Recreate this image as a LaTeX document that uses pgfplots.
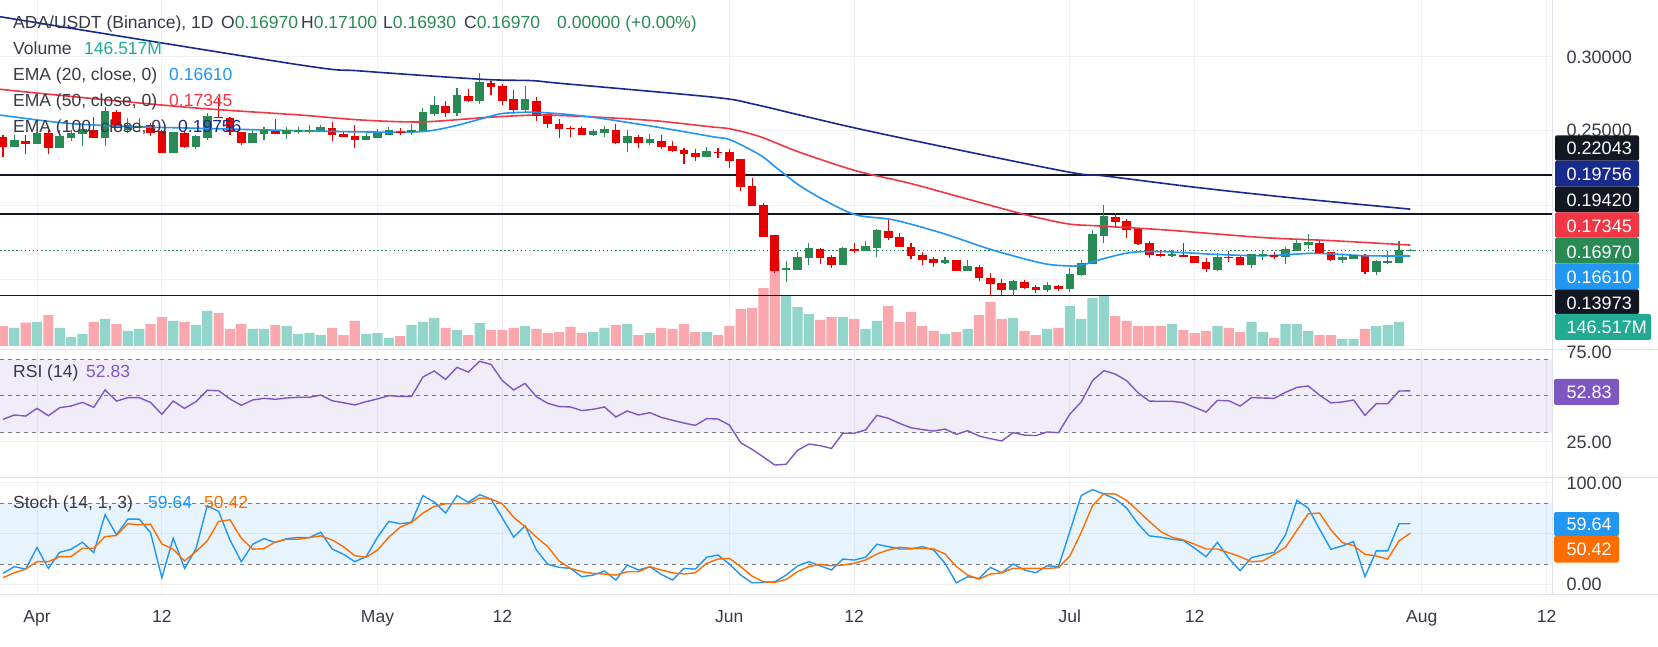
\documentclass[border=0pt]{standalone}
\usepackage{pgfplots}
\pgfplotsset{compat=1.18}
\usepackage{pgfplotstable}
\usepackage{fontspec}
\setmainfont{Liberation Sans}

\definecolor{upc}{RGB}{42,138,86}
\definecolor{dnc}{RGB}{230,0,0}
\definecolor{volup}{RGB}{146,213,202}
\definecolor{voldn}{RGB}{250,168,174}
\definecolor{volc}{RGB}{34,171,148}
\definecolor{ema20}{RGB}{33,150,243}
\definecolor{ema50}{RGB}{242,54,69}
\definecolor{ema100}{RGB}{24,42,140}
\definecolor{lvl}{RGB}{19,23,34}
\definecolor{gridc}{RGB}{238,240,245}
\definecolor{sepc}{RGB}{224,227,235}
\definecolor{rsic}{RGB}{126,87,194}
\definecolor{stk}{RGB}{33,150,243}
\definecolor{std}{RGB}{255,109,0}
\definecolor{dashc}{RGB}{120,123,134}
\definecolor{txt}{RGB}{55,58,70}

\newcommand\tv{\fontsize{17.5}{20}\selectfont}
\newcommand\sv{\fontsize{18}{21}\selectfont}

% daily candles: day index (0 = 1 Apr), open, high, low, close, volume (M)
\pgfplotstableread{
d o h l c v
-2 0.2395 0.2473 0.2390 0.2433 110
0 0.2413 0.2496 0.2410 0.2484 147
2 0.2388 0.2507 0.2385 0.2460 110
3 0.2455 0.2507 0.2433 0.2480 55
4 0.2478 0.2529 0.2402 0.2507 73
6 0.2455 0.2663 0.2402 0.2628 165
8 0.2505 0.2590 0.2484 0.2534 92
9 0.2525 0.2585 0.2490 0.2530 104
12 0.2355 0.2490 0.2352 0.2487 153
14 0.2395 0.2473 0.2379 0.2460 128
15 0.2455 0.2619 0.2440 0.2594 214
19 0.2422 0.2513 0.2420 0.2480 104
20 0.2482 0.2529 0.2440 0.2502 104
22 0.2478 0.2525 0.2449 0.2500 122
23 0.2493 0.2529 0.2482 0.2500 73
24 0.2496 0.2540 0.2484 0.2502 79
25 0.2496 0.2540 0.2494 0.2522 67
29 0.2442 0.2484 0.2440 0.2460 73
30 0.2455 0.2511 0.2453 0.2480 79
31 0.2475 0.2527 0.2473 0.2500 49
33 0.2493 0.2547 0.2473 0.2500 128
34 0.2496 0.2654 0.2494 0.2621 147
35 0.2616 0.2735 0.2603 0.2668 171
37 0.2623 0.2789 0.2603 0.2735 98
39 0.2704 0.2889 0.2683 0.2822 140
43 0.2643 0.2802 0.2623 0.2708 122
49 0.2475 0.2513 0.2469 0.2493 85
50 0.2489 0.2534 0.2462 0.2507 110
52 0.2422 0.2507 0.2361 0.2460 134
54 0.2422 0.2480 0.2408 0.2440 79
59 0.2328 0.2393 0.2326 0.2359 85
66 0.1570 0.1628 0.1489 0.1574 311
67 0.1570 0.1686 0.1568 0.1652 238
68 0.1650 0.1748 0.1601 0.1708 195
71 0.1603 0.1722 0.1601 0.1708 177
73 0.1697 0.1762 0.1695 0.1722 104
74 0.1717 0.1842 0.1654 0.1829 153
80 0.1616 0.1654 0.1608 0.1632 73
82 0.1563 0.1634 0.1560 0.1587 104
86 0.1435 0.1500 0.1390 0.1487 171
89 0.1435 0.1485 0.1422 0.1460 104
91 0.1442 0.1578 0.1422 0.1538 244
92 0.1536 0.1632 0.1529 0.1612 165
93 0.1608 0.1836 0.1606 0.1802 293
94 0.1798 0.2004 0.1751 0.1923 311
100 0.1661 0.1699 0.1657 0.1668 134
104 0.1570 0.1681 0.1563 0.1654 122
107 0.1603 0.1675 0.1583 0.1668 147
108 0.1661 0.1699 0.1637 0.1668 85
110 0.1657 0.1724 0.1610 0.1701 134
111 0.1697 0.1775 0.1695 0.1742 134
112 0.1735 0.1809 0.1710 0.1748 92
115 0.1637 0.1675 0.1616 0.1648 43
116 0.1643 0.1668 0.1641 0.1661 43
118 0.1556 0.1634 0.1536 0.1621 122
119 0.1616 0.1695 0.1610 0.1621 128
120 0.1616 0.1762 0.1614 0.1697 146.517
121 0.1697 0.1710 0.1693 0.1697 0
}\up

\pgfplotstableread{
d o h l c v
-3 0.2462 0.2473 0.2328 0.2395 122
-1 0.2433 0.2473 0.2344 0.2415 142
1 0.2484 0.2507 0.2346 0.2388 189
5 0.2507 0.2596 0.2451 0.2455 147
7 0.2628 0.2641 0.2518 0.2525 134
10 0.2538 0.2552 0.2469 0.2489 134
11 0.2502 0.2507 0.2352 0.2355 177
13 0.2487 0.2502 0.2384 0.2395 147
16 0.2596 0.2719 0.2585 0.2590 201
17 0.2590 0.2596 0.2473 0.2496 104
18 0.2493 0.2496 0.2406 0.2422 134
21 0.2500 0.2578 0.2480 0.2482 128
26 0.2522 0.2558 0.2433 0.2478 110
27 0.2482 0.2491 0.2460 0.2464 67
28 0.2469 0.2540 0.2388 0.2444 153
32 0.2500 0.2520 0.2475 0.2487 61
36 0.2668 0.2701 0.2596 0.2623 110
38 0.2735 0.2782 0.2695 0.2704 67
40 0.2822 0.2838 0.2744 0.2798 98
41 0.2802 0.2813 0.2677 0.2704 98
42 0.2715 0.2775 0.2616 0.2643 110
44 0.2701 0.2728 0.2569 0.2607 104
45 0.2614 0.2623 0.2522 0.2549 79
46 0.2547 0.2581 0.2455 0.2516 85
47 0.2520 0.2534 0.2462 0.2516 116
48 0.2520 0.2534 0.2473 0.2475 79
51 0.2507 0.2547 0.2415 0.2422 128
53 0.2460 0.2473 0.2388 0.2422 67
55 0.2433 0.2473 0.2382 0.2395 110
56 0.2399 0.2433 0.2361 0.2368 104
57 0.2373 0.2386 0.2281 0.2348 134
58 0.2352 0.2379 0.2301 0.2328 85
60 0.2359 0.2384 0.2321 0.2355 67
61 0.2359 0.2379 0.2254 0.2305 122
62 0.2312 0.2315 0.2097 0.2127 226
63 0.2131 0.2182 0.1996 0.1999 232
64 0.2004 0.2017 0.1789 0.1795 354
65 0.1802 0.1805 0.1549 0.1561 525
69 0.1708 0.1717 0.1608 0.1650 159
70 0.1652 0.1668 0.1583 0.1603 177
72 0.1710 0.1746 0.1684 0.1697 165
75 0.1829 0.1905 0.1771 0.1784 244
76 0.1789 0.1813 0.1722 0.1724 147
77 0.1722 0.1748 0.1641 0.1663 208
78 0.1668 0.1686 0.1601 0.1637 122
79 0.1641 0.1654 0.1590 0.1616 92
81 0.1634 0.1637 0.1560 0.1563 85
83 0.1587 0.1601 0.1493 0.1516 189
84 0.1514 0.1545 0.1399 0.1475 269
85 0.1480 0.1507 0.1397 0.1435 165
87 0.1487 0.1500 0.1442 0.1449 92
88 0.1455 0.1469 0.1415 0.1435 67
90 0.1460 0.1464 0.1429 0.1444 110
95 0.1923 0.1948 0.1851 0.1892 183
96 0.1896 0.1910 0.1784 0.1838 153
97 0.1845 0.1851 0.1735 0.1744 122
98 0.1748 0.1762 0.1650 0.1670 122
99 0.1675 0.1699 0.1657 0.1668 122
101 0.1668 0.1748 0.1655 0.1657 98
102 0.1661 0.1663 0.1614 0.1616 79
103 0.1621 0.1646 0.1556 0.1576 92
105 0.1657 0.1695 0.1623 0.1650 110
106 0.1657 0.1668 0.1601 0.1603 85
109 0.1668 0.1686 0.1643 0.1661 49
113 0.1748 0.1769 0.1682 0.1684 67
114 0.1688 0.1690 0.1630 0.1637 67
117 0.1661 0.1675 0.1543 0.1556 104
}\dn

% oscillators: RSI(14), Stoch %K and %D
\pgfplotstableread{
d rsi k dd
-3 37.2 10.8 6.5
-2 39.6 17.4 11.4
-1 39.0 15.0 15.0
0 43.2 36.2 22.3
1 39.2 15.7 22.3
2 43.6 31.5 27.2
3 44.5 34.5 27.2
4 46.5 41.4 35.5
5 43.8 31.2 35.5
6 53.3 68.5 47.0
7 47.2 48.7 48.0
8 49.1 64.2 59.6
9 49.1 64.2 58.6
10 46.5 51.0 59.2
11 40.0 6.5 39.8
12 47.2 45.4 34.5
13 43.2 15.7 23.0
14 46.9 34.8 32.2
15 53.1 77.4 42.7
16 52.9 71.8 61.9
17 48.4 43.7 63.5
18 44.9 22.3 45.4
19 47.8 39.4 34.5
20 48.7 45.0 35.2
21 48.2 41.1 41.7
22 48.9 45.0 44.4
23 49.3 46.0 44.4
24 49.3 46.0 46.0
25 50.5 51.3 47.7
26 47.4 34.8 43.7
27 46.3 29.6 37.1
28 45.1 22.3 28.2
29 46.9 27.2 26.6
30 48.4 46.4 33.8
31 50.2 61.9 46.4
32 49.8 59.6 56.3
33 49.8 61.2 60.9
34 60.4 87.3 70.1
35 63.7 81.0 76.7
36 59.1 70.1 79.3
37 65.7 87.3 79.3
38 63.1 80.7 79.3
39 69.0 88.2 84.9
40 67.3 83.9 83.9
41 58.4 65.2 79.3
42 53.3 46.4 65.8
43 56.9 57.6 56.9
44 49.6 33.8 46.4
45 46.0 19.7 37.1
46 44.2 16.7 23.0
47 44.0 15.7 15.7
48 42.0 7.5 12.4
49 42.7 9.1 10.8
50 44.0 13.1 10.1
51 38.5 4.2 9.1
52 41.8 19.0 12.4
53 39.6 14.1 12.4
54 40.9 17.4 17.4
55 38.3 9.8 14.1
56 36.7 4.2 11.4
57 35.2 15.7 10.1
58 33.9 15.0 11.4
59 37.6 26.6 20.7
60 37.4 28.9 24.9
61 34.1 20.0 25.6
62 24.4 9.1 17.4
63 20.8 1.5 8.1
64 16.6 1.9 2.5
65 12.2 2.5 1.9
66 12.6 9.1 4.8
67 20.2 18.0 12.4
68 23.7 22.3 17.4
69 22.8 18.3 19.7
70 21.3 14.1 18.3
71 29.6 24.9 19.0
72 29.6 23.9 20.7
73 31.4 26.6 23.9
74 39.4 39.4 29.9
75 37.8 37.1 33.8
76 35.0 34.8 36.5
77 32.6 34.8 35.5
78 31.6 37.1 35.5
79 30.8 33.8 34.8
80 31.9 20.7 29.9
81 29.0 1.5 17.4
82 31.0 7.5 9.1
83 28.1 5.8 5.2
84 26.6 16.7 10.1
85 25.4 11.4 11.4
86 29.9 20.0 15.7
87 28.6 14.1 15.7
88 28.3 11.4 15.7
89 30.3 18.3 15.7
90 29.9 17.4 16.4
91 40.1 52.0 27.9
92 46.7 87.3 51.0
93 58.4 93.2 77.4
94 63.9 88.9 89.2
95 62.0 84.0 88.9
96 58.4 75.1 82.6
97 51.8 59.6 72.4
98 47.2 47.7 61.9
99 47.1 46.4 52.0
100 47.1 44.4 46.4
101 46.3 43.1 43.7
102 43.8 35.5 39.4
103 41.2 27.2 34.8
104 47.6 41.4 34.8
105 47.4 25.6 31.2
106 44.5 13.4 27.2
107 49.1 26.3 22.3
108 48.9 28.9 23.0
109 48.7 31.5 29.6
110 52.0 48.7 36.5
111 54.7 82.6 53.0
112 55.5 75.1 69.4
113 50.5 54.3 70.1
114 46.2 34.5 53.6
115 46.7 37.8 41.1
116 47.8 42.1 38.1
117 39.4 7.5 29.6
118 45.8 32.9 27.9
119 45.8 32.9 24.9
120 52.7 59.64 42.7
121 52.83 59.64 50.42
}\osc

\pgfplotsset{
  pane/.style={anchor=south west, scale only axis, width=1552pt,
    xmin=-3.26, xmax=133.48,
    axis line style={draw=none}, tick style={draw=none}, major tick length=0pt,
    xtick={0,11,30,41,61,72,91,102,122,133},
    xticklabels={}, yticklabels={},
    xmajorgrids, ymajorgrids,
    major grid style={draw=gridc, line width=1pt}},
  bare/.style={anchor=south west, scale only axis, width=1552pt,
    xmin=-3.26, xmax=133.48, hide axis},
}
\tikzset{txtnode/.style={anchor=base west, inner sep=0pt, font=\tv},
  scnode/.style={anchor=base west, inner sep=0pt, font=\sv}}

\begin{document}
\begin{tikzpicture}
\fill[white] (0,0) rectangle (1658pt,646pt);

% price pane grid
\begin{axis}[pane, at={(0pt,296pt)}, height=350pt,
  ymin=0.10302, ymax=0.33792, ytick={0.15,0.2,0.25,0.3}]
\addplot[draw=none] coordinates {(0,0.2)};
\end{axis}

% volume histogram
\begin{axis}[bare, at={(0pt,300pt)}, height=100pt, ymin=0, ymax=610.5]
\addplot[ybar, bar width=10.2pt, bar shift=0pt, fill=volup, draw=none] table[x=d, y=v] {\up};
\addplot[ybar, bar width=10.2pt, bar shift=0pt, fill=voldn, draw=none] table[x=d, y=v] {\dn};
\end{axis}

% price series
\begin{axis}[bare, at={(0pt,296pt)}, height=350pt, ymin=0.10302, ymax=0.33792]
% horizontal levels
\addplot[lvl, line width=1.3pt] coordinates {(-3.26,0.22043) (133.48,0.22043)};
\addplot[lvl, line width=1.3pt] coordinates {(-3.26,0.19420) (133.48,0.19420)};
\addplot[lvl, line width=1.3pt] coordinates {(-3.26,0.13973) (133.48,0.13973)};
\addplot[upc, line width=1.2pt, dash pattern=on 1.5pt off 2.6pt] coordinates {(-3.26,0.16970) (133.48,0.16970)};
% candles: wicks, bodies, close ticks
\addplot[draw=upc, line width=1.1pt, quiver={u=0, v=\thisrow{h}-\thisrow{l}}] table[x=d, y=l] {\up};
\addplot[draw=dnc, line width=1.1pt, quiver={u=0, v=\thisrow{h}-\thisrow{l}}] table[x=d, y=l] {\dn};
\addplot[draw=upc, line width=8.6pt, quiver={u=0, v=\thisrow{c}-\thisrow{o}}] table[x=d, y=o] {\up};
\addplot[draw=dnc, line width=8.6pt, quiver={u=0, v=\thisrow{c}-\thisrow{o}}] table[x=d, y=o] {\dn};
\addplot[only marks, mark=-, mark size=4.3pt, mark options={draw=upc, line width=1.1pt}] table[x=d, y=c] {\up};
\addplot[only marks, mark=-, mark size=4.3pt, mark options={draw=dnc, line width=1.1pt}] table[x=d, y=c] {\dn};
% moving averages
\addplot[ema100, line width=1.6pt, smooth] coordinates {
(-3.26,0.3267) (23.2,0.2943) (28.5,0.2903) (39.2,0.2847) (43.6,0.2838)
(46.1,0.2820) (59.7,0.2726) (63.1,0.2681) (67.2,0.2607) (72.2,0.2518)
(79.8,0.2395) (91,0.2223) (94.1,0.2198) (102.3,0.2120) (111,0.2048) (121,0.19756)};
\addplot[ema50, line width=1.6pt, smooth] coordinates {
(-3.26,0.2780) (5.55,0.2713) (14.4,0.2652) (23.2,0.2607) (28.5,0.2574)
(33.9,0.2561) (39.8,0.2592) (44.2,0.2607) (48.6,0.2596) (54.4,0.2569)
(59.5,0.2527) (61.1,0.2514) (63.7,0.2462) (67.2,0.2357) (72.2,0.2232)
(76.9,0.2149) (82.8,0.2026) (87.2,0.1936) (90.8,0.1877) (93.5,0.1863)
(99.4,0.1836) (108.2,0.1784) (114.1,0.1764) (121,0.17345)};
\addplot[ema20, line width=1.6pt, smooth] coordinates {
(-3.26,0.2607) (2.6,0.2552) (8.5,0.2529) (14.4,0.2518) (20.2,0.2507)
(28.5,0.2494) (33.9,0.2496) (36.9,0.2536) (39.8,0.2596) (41.2,0.2619)
(44.2,0.2625) (48.6,0.2596) (54.4,0.2529) (59.5,0.2462) (61.1,0.2440)
(63.7,0.2339) (65.2,0.2250) (67.2,0.2133) (69.6,0.2026) (72.2,0.1936)
(75.5,0.1903) (79.8,0.1813) (84.2,0.1701) (88.6,0.1612) (91,0.1594)
(92.1,0.1601) (94.1,0.1646) (96.5,0.1686) (99.4,0.1690) (103.8,0.1672)
(108.2,0.1663) (112.6,0.1679) (117,0.1663) (121,0.16610)};
\end{axis}

% RSI pane
\begin{axis}[pane, at={(0pt,169pt)}, height=126pt,
  ymin=5.64, ymax=74.64, ytick={25,75}]
\addplot[draw=none, fill=rsic, fill opacity=0.1] coordinates {(-3.26,30) (133.48,30) (133.48,70) (-3.26,70) (-3.26,30)};
\addplot[dashc, line width=1pt, dash pattern=on 4pt off 4pt] coordinates {(-3.26,70) (133.48,70)};
\addplot[dashc, line width=1pt, dash pattern=on 4pt off 4pt] coordinates {(-3.26,50) (133.48,50)};
\addplot[dashc, line width=1pt, dash pattern=on 4pt off 4pt] coordinates {(-3.26,30) (133.48,30)};
\addplot[rsic, line width=1.4pt] table[x=d, y=rsi] {\osc};
\end{axis}

% Stochastic pane
\begin{axis}[pane, at={(0pt,52pt)}, height=117pt,
  ymin=-9.5, ymax=105.6, ytick={0,50,100}]
\addplot[draw=none, fill=stk, fill opacity=0.1] coordinates {(-3.26,20) (133.48,20) (133.48,80) (-3.26,80) (-3.26,20)};
\addplot[dashc, line width=1pt, dash pattern=on 4pt off 4pt] coordinates {(-3.26,80) (133.48,80)};
\addplot[dashc, line width=1pt, dash pattern=on 4pt off 4pt] coordinates {(-3.26,20) (133.48,20)};
\addplot[stk, line width=1.4pt] table[x=d, y=k] {\osc};
\addplot[std, line width=1.4pt] table[x=d, y=dd] {\osc};
\end{axis}

% pane separators
\draw[sepc, line width=1pt] (0pt,296pt) -- (1658pt,296pt);
\draw[sepc, line width=1pt] (0pt,169pt) -- (1658pt,169pt);
\draw[sepc, line width=1pt] (0pt,52pt) -- (1658pt,52pt);
\draw[sepc, line width=1pt] (1552pt,52pt) -- (1552pt,646pt);

% legends
\node[txtnode, text=txt] at (13pt,617pt) {ADA/USDT (Binance), 1D};
\node[txtnode, text=txt] at (221pt,617pt) {O\textcolor{upc}{0.16970}};
\node[txtnode, text=txt] at (301pt,617pt) {H\textcolor{upc}{0.17100}};
\node[txtnode, text=txt] at (383pt,617pt) {L\textcolor{upc}{0.16930}};
\node[txtnode, text=txt] at (464pt,617pt) {C\textcolor{upc}{0.16970}};
\node[txtnode, text=upc] at (557pt,617pt) {0.00000 (+0.00\%)};
\node[txtnode, text=txt] at (13pt,591pt) {Volume};
\node[txtnode, text=volc] at (84pt,591pt) {146.517M};
\node[txtnode, text=txt] at (13pt,565pt) {EMA (20, close, 0)};
\node[txtnode, text=ema20] at (169pt,565pt) {0.16610};
\node[txtnode, text=txt] at (13pt,539pt) {EMA (50, close, 0)};
\node[txtnode, text=ema50] at (169pt,539pt) {0.17345};
\node[txtnode, text=txt] at (13pt,513pt) {EMA (100, close, 0)};
\node[txtnode, text=ema100] at (178pt,513pt) {0.19756};
\node[txtnode, text=txt] at (13pt,268pt) {RSI (14)};
\node[txtnode, text=rsic] at (86pt,268pt) {52.83};
\node[txtnode, text=txt] at (13pt,138pt) {Stoch (14, 1, 3)};
\node[txtnode, text=stk] at (148pt,138pt) {59.64};
\node[txtnode, text=std] at (204pt,138pt) {50.42};

% time axis
\foreach \xx/\lab in {37/Apr, 161.85/12, 377.5/May, 502.35/12, 729.35/Jun, 854.2/12, 1069.85/Jul, 1194.7/12, 1421.7/Aug, 1546.55/12}
  \node[anchor=base, inner sep=0pt, font=\tv, text=txt] at (\xx pt,24pt) {\lab};

% right scale
\node[scnode, text=txt] at (1566.5pt,582.7pt) {0.30000};
\node[scnode, text=txt] at (1566.5pt,509.3pt) {0.25000};
\node[scnode, text=txt] at (1566.5pt,287pt) {75.00};
\node[scnode, text=txt] at (1566.5pt,197pt) {25.00};
\node[scnode, text=txt] at (1566.5pt,157pt) {100.00};
\node[scnode, text=txt] at (1566.5pt,56pt) {0.00};

\foreach \yb/\yt/\yl/\cc/\vv in {485.3/510.7/491/lvl/0.22043, 459.3/485.3/465/ema100/0.19756,
  433.7/459.3/439.3/lvl/0.19420, 408.3/433.7/413.3/ema50/0.17345, 382.7/408.3/387.7/upc/0.16970,
  356.7/382.7/362/ema20/0.16610, 332/356.7/336/lvl/0.13973}{
  \fill[\cc, rounded corners=2pt] (1555pt,\yb pt) rectangle (1639pt,\yt pt);
  \node[scnode, text=white] at (1566.5pt,\yl pt) {\vv};
}
\fill[volc, rounded corners=2pt] (1555pt,306pt) rectangle (1651pt,332pt);
\node[scnode, text=white] at (1566.5pt,312pt) {146.517M};
\fill[rsic, rounded corners=2pt] (1554pt,241pt) rectangle (1619pt,267pt);
\node[scnode, text=white] at (1566.5pt,247.5pt) {52.83};
\fill[stk, rounded corners=2pt] (1554pt,110pt) rectangle (1619pt,134pt);
\node[scnode, text=white] at (1566.5pt,115.5pt) {59.64};
\fill[std, rounded corners=2pt] (1554pt,83.5pt) rectangle (1619pt,110pt);
\node[scnode, text=white] at (1566.5pt,90.5pt) {50.42};

\pgfresetboundingbox
\useasboundingbox (0,0) rectangle (1658pt,646pt);
\end{tikzpicture}
\end{document}
